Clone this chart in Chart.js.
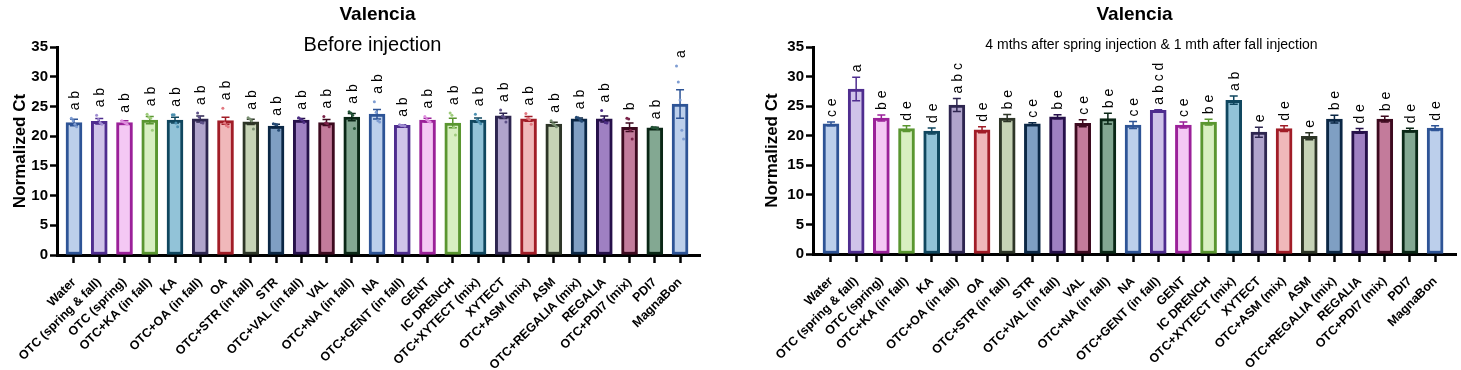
<!DOCTYPE html>
<html lang="en">
<head>
<meta charset="UTF-8">
<title>Valencia - Normalized Ct</title>
<style>
  html, body { margin: 0; padding: 0; background: #fff; }
  body { width: 1461px; height: 370px; position: relative; overflow: hidden; }
  .panel { position: absolute; top: 0; height: 370px; }
  #left { left: 0; width: 740px; }
  #right { left: 752px; width: 709px; }
</style>
</head>
<body>
<div class="panel" id="left"><canvas id="chartBefore" width="740" height="370"></canvas></div>
<div class="panel" id="right"><canvas id="chartAfter" width="709" height="370"></canvas></div>

<script src="https://cdn.jsdelivr.net/npm/chart.js@4.4.2/dist/chart.umd.min.js"></script>
<script>
// treatments, same order in both panels
const categories = ['Water', 'OTC (spring & fall)', 'OTC (spring)', 'OTC+KA (in fall)', 'KA',
  'OTC+OA (in fall)', 'OA', 'OTC+STR (in fall)', 'STR', 'OTC+VAL (in fall)', 'VAL',
  'OTC+NA (in fall)', 'NA', 'OTC+GENT (in fall)', 'GENT', 'IC DRENCH', 'OTC+XYTECT (mix)',
  'XYTECT', 'OTC+ASM (mix)', 'ASM', 'OTC+REGALIA (mix)', 'REGALIA', 'OTC+PDI7 (mix)', 'PDI7', 'MagnaBon'];

const yTicks = [0, 5, 10, 15, 20, 25, 30, 35];

// before injection
const beforeMeans = [22.3, 22.5, 22.3, 22.7, 22.7, 22.9, 22.6, 22.4, 21.7, 22.7, 22.3, 23.2, 23.7,
  21.8, 22.7, 22.2, 22.7, 23.4, 22.9, 22.05, 22.9, 22.9, 21.5, 21.4, 25.4];
const beforeSem = [0.55, 0.45, 0.3, 0.6, 0.5, 0.5, 0.6, 0.45, 0.3, 0.25, 0.5, 0.6, 0.8,
  0.1, 0.3, 0.8, 0.35, 0.45, 0.4, 0.3, 0.15, 0.5, 0.7, 0.1, 2.4];
const beforeLetters = ['a b', 'a b', 'a b', 'a b', 'a b', 'a b', 'a b', 'a b', 'a b', 'a b', 'a b',
  'a b', 'a b', 'a b', 'a b', 'a b', 'a b', 'a b', 'a b', 'a b', 'a b', 'a b', 'b', 'a b', 'a'];
const beforeReps = [
  [23.0, 22.6, 22.0, 21.6], [23.5, 22.8, 22.3, 22.0], [22.6, 22.4, 22.2, 22.0], [23.7, 23.2, 23.0, 21.0],
  [23.6, 23.6, 22.2, 21.6], [23.9, 23.2, 22.3, 22.2], [24.7, 22.2, 21.8, 21.6], [23.1, 22.9, 22.6, 21.2],
  [22.1, 22.0, 21.9, 21.0], [23.1, 22.9, 22.7, 22.3], [23.3, 22.2, 22.1, 21.6], [24.1, 23.9, 23.5, 21.3],
  [25.8, 24.0, 22.6, 22.4], [21.9, 21.8, 21.8, 21.7], [23.3, 22.8, 22.5, 22.4], [23.9, 23.5, 21.5, 20.2],
  [23.7, 22.7, 22.4, 22.1], [24.4, 23.4, 23.2, 22.4], [23.8, 23.0, 22.8, 22.0], [22.6, 22.1, 21.9, 21.6],
  [23.2, 23.1, 22.8, 22.5], [24.3, 22.8, 22.3, 22.2], [23.0, 22.9, 21.0, 19.5], [21.5, 21.4, 21.4, 21.3],
  [31.8, 29.1, 26.1, 21.0, 19.5]
];

// 4 months after spring / 1 month after fall injection
const afterMeans = [22.0, 27.9, 23.0, 21.2, 20.8, 25.2, 21.0, 23.0, 22.0, 23.2, 22.1, 22.9, 21.8,
  24.3, 21.8, 22.3, 26.0, 20.6, 21.2, 19.9, 22.8, 20.8, 22.8, 20.95, 21.3];
const afterSem = [0.3, 2.0, 0.5, 0.5, 0.5, 1.1, 0.5, 0.6, 0.2, 0.35, 0.6, 0.9, 0.6,
  0.1, 0.5, 0.5, 0.7, 0.85, 0.5, 0.6, 0.65, 0.4, 0.5, 0.3, 0.4];
const afterLetters = ['c e', 'a', 'b e', 'd e', 'd e', 'a b c', 'd e', 'b e', 'c e', 'b e', 'c e',
  'b e', 'c e', 'a b c d', 'c e', 'b e', 'a b', 'e', 'd e', 'e', 'b e', 'd e', 'b e', 'd e', 'd e'];

// 12 colour pairs, repeated
const palette = [
  { fill: '#bccfeb', border: '#2e5496', dot: '#7f9dd2' },
  { fill: '#cfc3e9', border: '#4f2d8f', dot: '#a08dd2' },
  { fill: '#f4c8f4', border: '#9b2199', dot: '#e08ee0' },
  { fill: '#d8efc1', border: '#5a9630', dot: '#9fcc7c' },
  { fill: '#92c3d8', border: '#10475f', dot: '#4b90b0' },
  { fill: '#b0a4cc', border: '#2e2650', dot: '#5e5188' },
  { fill: '#f0b8ba', border: '#a11d27', dot: '#e27880' },
  { fill: '#c6d3b6', border: '#2d3527', dot: '#7a9073' },
  { fill: '#7f9fc3', border: '#0b2745', dot: '#244a75' },
  { fill: '#9f80c2', border: '#26104a', dot: '#4d2e84' },
  { fill: '#c37b9b', border: '#3d0a1f', dot: '#7a2248' },
  { fill: '#83a892', border: '#0a2716', dot: '#245538' }
];
const col = (i, key) => palette[i % palette.length][key];

const FONT = "'Liberation Sans', Arial, sans-serif";

const barExtras = {
  id: 'barExtras',
  afterDatasetDraw(chart, args, opts) {
    if (args.meta.type !== 'bar') return;
    const ctx = chart.ctx, x = chart.scales.x, y = chart.scales.y;
    ctx.save();
    opts.means.forEach((m, i) => {
      const px = x.getPixelForValue(i);
      const hi = y.getPixelForValue(m + opts.sem[i]);
      const lo = y.getPixelForValue(m - opts.sem[i]);
      ctx.strokeStyle = col(i, 'border');
      ctx.lineWidth = 1.5;
      ctx.beginPath();
      ctx.moveTo(px, hi); ctx.lineTo(px, lo);
      ctx.moveTo(px - 4, hi); ctx.lineTo(px + 4, hi);
      ctx.moveTo(px - 4, lo); ctx.lineTo(px + 4, lo);
      ctx.stroke();
    });
    ctx.restore();
  },
  afterDraw(chart, args, opts) {
    const ctx = chart.ctx, x = chart.scales.x, y = chart.scales.y, a = chart.chartArea;
    ctx.save();
    ctx.fillStyle = '#000';
    // significance letters
    ctx.font = '14px ' + FONT;
    ctx.textAlign = 'left';
    ctx.textBaseline = 'middle';
    opts.means.forEach((m, i) => {
      let top = m + opts.sem[i];
      if (opts.reps) top = Math.max(top, ...opts.reps[i]);
      const px = x.getPixelForValue(i);
      const py = y.getPixelForValue(top) - opts.gap;
      ctx.save();
      ctx.translate(px + 1, py);
      ctx.rotate(-Math.PI / 2);
      ctx.fillText(opts.letters[i], 0, 0);
      ctx.restore();
    });
    // titles
    const cx = (a.left + a.right) / 2;
    ctx.textAlign = 'center';
    ctx.textBaseline = 'alphabetic';
    ctx.font = 'bold 19px ' + FONT;
    ctx.fillText('Valencia', cx + opts.titleDx, 20);
    ctx.font = opts.subSize + 'px ' + FONT;
    ctx.fillText(opts.subtitle, cx + opts.subDx, opts.subY);
    ctx.restore();
  }
};

function makePanel(canvasId, means, sem, letters, reps, p) {
  const datasets = [{
    type: 'bar',
    order: 2,
    data: means.map((v, i) => ({ x: i, y: v })),
    backgroundColor: means.map((v, i) => col(i, 'fill')),
    borderColor: means.map((v, i) => col(i, 'border')),
    borderWidth: 3,
    borderSkipped: false,
    barThickness: 16
  }];
  if (reps) {
    const pts = [], colors = [];
    reps.forEach((r, i) => r.forEach((v, k) => {
      pts.push({ x: i + (k - (r.length - 1) / 2) * 0.07, y: v });
      colors.push(col(i, 'dot'));
    }));
    datasets.push({
      type: 'scatter',
      order: 1,
      data: pts,
      pointRadius: 1.5,
      pointBorderWidth: 0,
      pointBackgroundColor: colors
    });
  }

  return new Chart(document.getElementById(canvasId), {
    data: { datasets },
    options: {
      responsive: false,
      animation: false,
      devicePixelRatio: 1,
      layout: { padding: { left: 0, top: 47, right: p.padRight, bottom: 0 } },
      scales: {
        x: {
          type: 'linear',
          offset: false,
          min: p.xMin,
          max: p.xMax,
          afterBuildTicks: s => { s.ticks = categories.map((c, i) => ({ value: i })); },
          afterFit: s => { s.height = p.xHeight; },
          ticks: {
            autoSkip: false,
            maxRotation: 45,
            minRotation: 45,
            padding: 12,
            color: '#000',
            font: { family: FONT, weight: 'bold', size: 12.5 },
            callback: v => categories[v]
          },
          grid: { offset: false, drawOnChartArea: false, tickLength: 8, tickWidth: 2.5, tickColor: '#000' },
          border: { display: true, color: '#000', width: 3 }
        },
        y: {
          min: 0,
          max: 35,
          afterBuildTicks: s => { s.ticks = yTicks.map(v => ({ value: v })); },
          afterFit: s => { s.width = p.yWidth; },
          ticks: { color: '#000', padding: 2, font: { family: FONT, weight: 'bold', size: 15 } },
          grid: { drawOnChartArea: false, tickLength: 7, tickWidth: 2.5, tickColor: '#000' },
          border: { display: true, color: '#000', width: 3 },
          title: {
            display: true,
            text: 'Normalized Ct',
            color: '#000',
            padding: { top: 10, bottom: 0 },
            font: { family: FONT, weight: 'bold', size: 17 }
          }
        }
      },
      plugins: {
        legend: { display: false },
        tooltip: { enabled: false },
        barExtras: {
          means, sem, letters, reps,
          gap: p.gap,
          subtitle: p.subtitle,
          subSize: p.subSize,
          subY: p.subY,
          titleDx: p.titleDx,
          subDx: p.subDx
        }
      }
    },
    plugins: [barExtras]
  });
}

makePanel('chartBefore', beforeMeans, beforeSem, beforeLetters, beforeReps, {
  padRight: 40, yWidth: 57, xHeight: 115, xMin: -0.673, xMax: 24.79, gap: 8,
  subtitle: 'Before injection', subSize: 20, subY: 51, titleDx: -1, subDx: -6
});

makePanel('chartAfter', afterMeans, afterSem, afterLetters, null, {
  padRight: 5, yWidth: 61, xHeight: 116, xMin: -0.715, xMax: 24.83, gap: 5,
  subtitle: '4 mths after spring injection & 1 mth after fall injection', subSize: 14, subY: 49, titleDx: 0, subDx: 17
});
</script>
</body>
</html>
